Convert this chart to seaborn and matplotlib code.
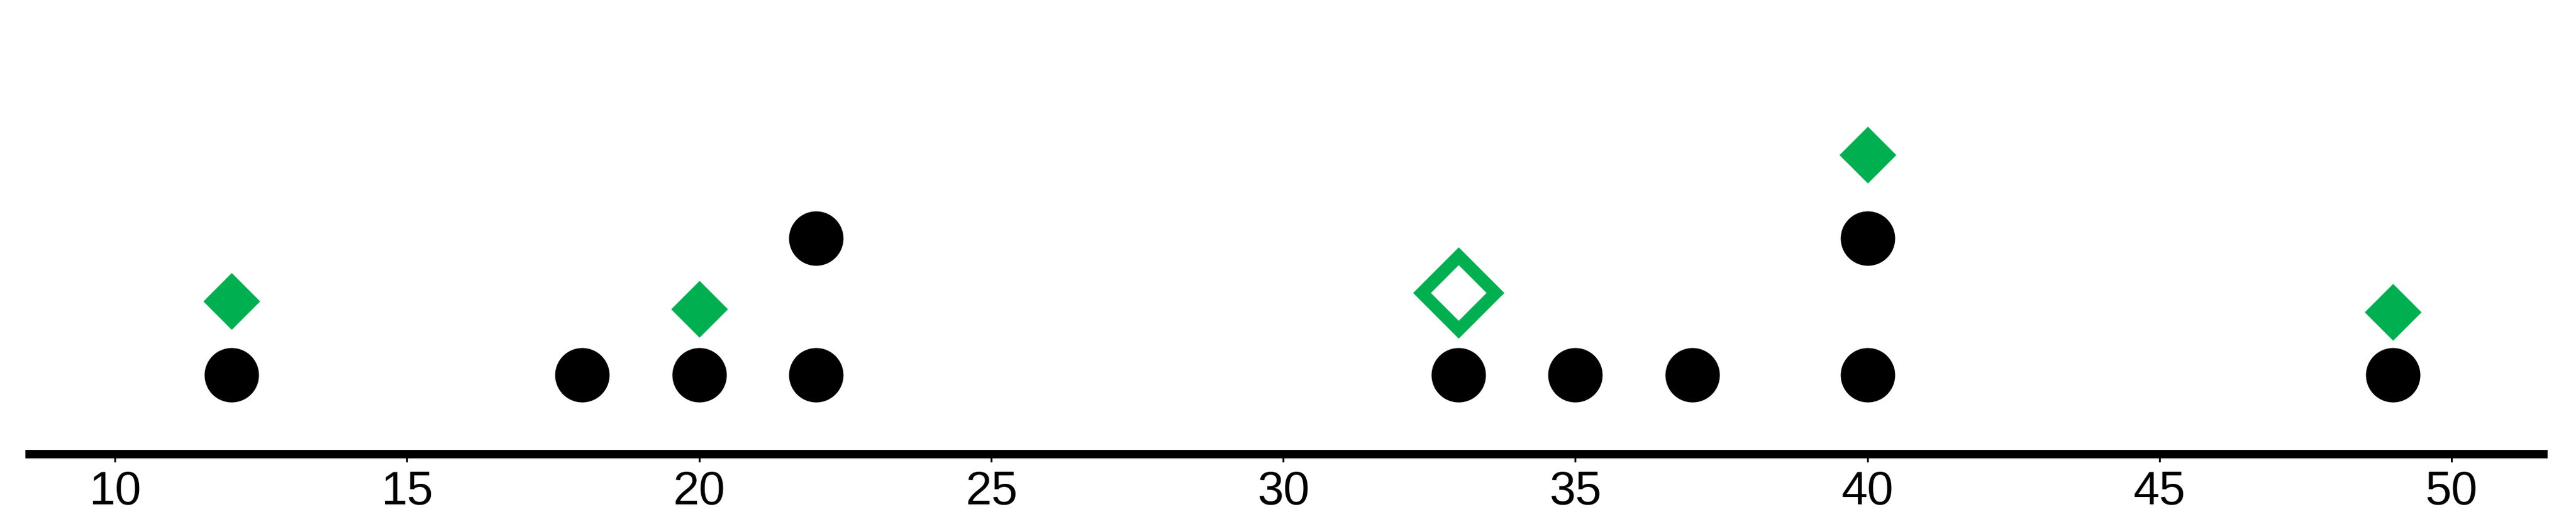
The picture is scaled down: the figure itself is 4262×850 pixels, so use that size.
"""
plot.py - dot plot with stacked black dots and green diamond markers.
"""

import matplotlib
matplotlib.use("Agg")
import matplotlib.pyplot as plt
from matplotlib.path import Path
import pandas as pd
import seaborn as sns

# stacked dots: value on the axis and its level in the stack
dot_x = [12, 18, 20, 22, 22, 33, 35, 37, 40, 40, 49]
dot_level = [1, 1, 1, 1, 2, 1, 1, 1, 1, 2, 1]

# green diamonds: value, height, filled or hollow
diamond_x = [12, 20, 33, 40, 49]
diamond_y = [1.54, 1.48, 1.60, 2.61, 1.46]
diamond_filled = [True, True, False, True, True]

tick_values = [10, 15, 20, 25, 30, 35, 40, 45, 50]

GREEN = "#00B050"
DIAMOND = Path([(0, 1), (1, 0), (0, -1), (-1, 0), (0, 1)], closed=True)

sns.set_theme(style="white")
plt.rcParams["font.family"] = ["Liberation Sans", "DejaVu Sans"]

dots = pd.DataFrame({"x": dot_x, "y": dot_level})
diamonds = pd.DataFrame({"x": diamond_x, "y": diamond_y, "filled": diamond_filled})

fig = plt.figure(figsize=(42.62, 8.5), dpi=100)
ax = fig.add_axes([0.0115, 0.1165, 0.9758, 0.8835])

sns.scatterplot(data=dots, x="x", y="y", ax=ax, color="black",
                s=4200, marker="o", linewidth=0, legend=False)

solid = diamonds[diamonds["filled"]]
sns.scatterplot(data=solid, x="x", y="y", ax=ax, color=GREEN,
                s=4580, marker=DIAMOND, linewidth=0, legend=False)

hollow = diamonds[~diamonds["filled"]]
sns.scatterplot(data=hollow, x="x", y="y", ax=ax, facecolor="white",
                edgecolor=GREEN, s=87.5 ** 2, marker=DIAMOND,
                linewidth=15, legend=False)
ax.collections[-1].set_joinstyle("miter")

ax.set_xlim(8.54, 51.57)
ax.set_ylim(0.42, 3.74)
ax.set_xticks(tick_values)
ax.set_xticklabels([str(v) for v in tick_values])
ax.set_yticks([])
ax.set_xlabel("")
ax.set_ylabel("")

for side in ["top", "left", "right"]:
    ax.spines[side].set_visible(False)
ax.spines["bottom"].set_linewidth(10)
ax.spines["bottom"].set_color("black")
ax.tick_params(axis="x", direction="out", length=9, width=2.2,
               color="black", labelcolor="black", labelsize=56, pad=10,
               bottom=True)

fig.savefig("out.png", dpi=100, facecolor="white")
